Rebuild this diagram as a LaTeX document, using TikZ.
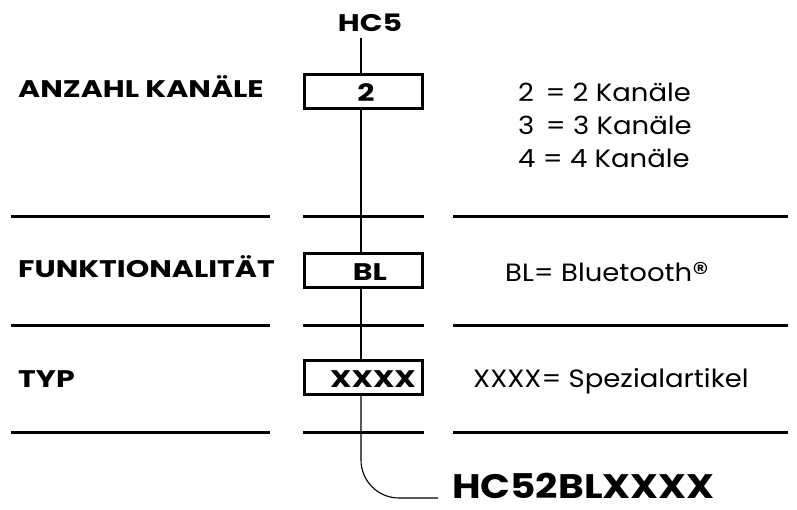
\documentclass[tikz,border=0pt]{standalone}
\usepackage{fontspec}
\setmainfont{Poppins}[FakeStretch=1.1]
\newfontfamily\bfam{Poppins}[FakeStretch=1.25]
\newfontfamily\rfam{Poppins}[FakeStretch=1.15]
\begin{document}
\begin{tikzpicture}[x=1pt,y=-1pt,
  rule/.style={line width=3pt},
  codebox/.style={draw,line width=3pt,minimum width=118pt,minimum height=34pt,inner sep=0pt},
  lbl/.style={font=\bfam\bfseries\fontsize{24}{28}\selectfont,anchor=base west,inner sep=0pt},
  codetxt/.style={font=\bfam\bfseries\fontsize{24}{28}\selectfont,anchor=base,inner sep=0pt},
  desc/.style={font=\fontsize{25}{29}\selectfont,anchor=base west,inner sep=0pt},
  wire/.style={line width=1.1pt}]
\useasboundingbox (0,0) rectangle (797,510);
% header
\node[codetxt] (hc5) at (370,32) {HC5};
\coordinate (top) at (361,38);
% boxes
\node[codebox] (b1) at (363,91.5) {};
\node[codebox] (b2) at (363,271) {};
\node[codebox] (b3) at (363,377.5) {};
\node[codetxt] (t1) at (366,102) {2};
\node[codetxt] (t2) at (370,281) {BL};
\node[codetxt] (t3) at (373,387) {XXXX};
% left labels
\node[lbl] (l1) at (18,98) {ANZAHL KANÄLE};
\node[lbl] (l2) at (18,278) {FUNKTIONALITÄT};
\node[lbl] (l3) at (18,387) {TYP};
% descriptions
\node[desc] (d1) at (518,102) {2 \,= 2 Kanäle};
\node[desc] (d2) at (518,135) {3 \,= 3 Kanäle};
\node[desc] (d3) at (518,168) {4 = 4 Kanäle};
\node[desc] (d4) at (505,282) {BL= Bluetooth\raisebox{-0.1ex}{\fontsize{30}{30}\selectfont ®}};
\node[desc] (d5) at (473,387) {XXXX= Spezialartikel};
% result
\node[font=\rfam\bfseries\fontsize{34}{40}\selectfont,anchor=base west,inner sep=0pt] (res) at (452,498) {HC52BLXXXX};
% rules
\foreach \y/\n in {217/r1,325/r2,432/r3}{
  \coordinate (\n a) at (11,\y); \coordinate (\n b) at (270,\y);
  \coordinate (\n c) at (303,\y); \coordinate (\n d) at (424,\y);
  \coordinate (\n e) at (453,\y); \coordinate (\n f) at (788,\y);
  \draw[rule] (\n a) -- (\n b);
  \draw[rule] (\n c) -- (\n d);
  \draw[rule] (\n e) -- (\n f);
}
% wire
\coordinate (corner) at (361,498);
\coordinate (tail) at (438,498);
\draw[wire] (top) -- (top |- b1.north);
\draw[wire] (top |- b1.south) -- (top |- b2.north);
\draw[wire] (top |- b2.south) -- (top |- b3.north);
\draw[wire,rounded corners=38pt] (top |- b3.south) -- (corner) -- (tail);
\end{tikzpicture}
\end{document}
